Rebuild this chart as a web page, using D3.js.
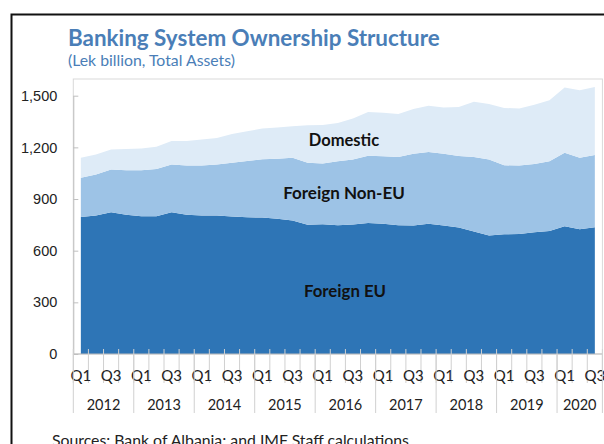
<!DOCTYPE html>
<html>
<head>
    <title>Banking System Ownership Structure</title>
    <script src="https://d3js.org/d3.v7.min.js"></script>
    <style>
        body { margin: 0; background: #fff; }
        svg { display: block; font-family: Lato, "Open Sans", sans-serif; }
        .tick text { font-size: 14.5px; fill: #222; }
        .layer-label { font-weight: bold; fill: #111; text-anchor: middle; }
    </style>
</head>
<body>
    <svg width="604" height="444"></svg>
    <script>
        // quarterly data, 2012 Q1 - 2020 Q3 (Lek billion)
        const years = [2012, 2013, 2014, 2015, 2016, 2017, 2018, 2019, 2020];
        const quarters = ["Q1", "Q2", "Q3", "Q4"];
        const foreignEU = [796, 804, 823, 808, 800, 800, 823, 808, 805, 804, 798, 794, 792, 786, 775, 750, 753, 747,
                           752, 761, 757, 747, 746, 756, 746, 734, 711, 688, 695, 697, 707, 715, 742, 724, 736];
        const foreignNonEU = [228, 239, 249, 259, 267, 275, 278, 286, 289, 297, 313, 327, 339, 348, 364, 361, 354, 372,
                              377, 391, 391, 397, 417, 417, 417, 416, 433, 441, 401, 397, 397, 404, 427, 416, 420];
        const domestic = [116, 115, 116, 124, 126, 129, 136, 143, 151, 154, 167, 172, 178, 182, 183, 217, 223, 223,
                          238, 253, 253, 250, 260, 269, 269, 284, 321, 323, 333, 331, 344, 354, 378, 391, 395];
        const seriesNames = ["Foreign EU", "Foreign Non-EU", "Domestic"];
        const colors = ["#2e75b6", "#9dc3e6", "#deebf7"];
        const yTicks = [0, 300, 600, 900, 1200, 1500];

        const periods = [];
        years.forEach(y => quarters.forEach(q => periods.push(y + " " + q)));
        periods.length = foreignEU.length;

        const rows = periods.map((p, i) => ({
            period: p,
            "Foreign EU": foreignEU[i],
            "Foreign Non-EU": foreignNonEU[i],
            "Domestic": domestic[i]
        }));

        const svg = d3.select("svg");
        const plotL = 73.3, plotR = 602.4, plotT = 79, plotB = 354;

        const x = d3.scaleBand().domain(periods).range([plotL, plotR]);
        const y = d3.scaleLinear().domain([0, 1500]).range([plotB, 95.7]);
        const cx = p => x(p) + x.bandwidth() / 2;

        // outer frame
        svg.append("rect")
            .attr("x", 11.5).attr("y", 14.5).attr("width", 640).attr("height", 480)
            .attr("fill", "none").attr("stroke", "#111").attr("stroke-width", 2);

        svg.append("text")
            .attr("x", 68).attr("y", 46)
            .attr("fill", "#4a7eb7").attr("font-size", 22.4).attr("font-weight", "bold")
            .text("Banking System Ownership Structure");
        svg.append("text")
            .attr("x", 68).attr("y", 66)
            .attr("fill", "#4a7eb7").attr("font-size", 15.8)
            .text("(Lek billion, Total Assets)");

        // plot area border
        svg.append("rect")
            .attr("x", plotL).attr("y", plotT).attr("width", plotR - plotL).attr("height", plotB - plotT)
            .attr("fill", "none").attr("stroke", "#d9d9d9");

        const stacked = d3.stack().keys(seriesNames)(rows);
        const area = d3.area()
            .x(d => cx(d.data.period))
            .y0(d => y(d[0]))
            .y1(d => y(d[1]));

        svg.append("g").selectAll("path")
            .data(stacked)
            .join("path")
            .attr("fill", (d, i) => colors[i])
            .attr("d", area);

        // y axis
        const yAxis = svg.append("g")
            .attr("transform", `translate(${plotL},0)`)
            .call(d3.axisLeft(y).tickValues(yTicks).tickSize(-5).tickSizeOuter(0).tickPadding(16)
                .tickFormat(d3.format(",")));
        yAxis.select(".domain").attr("stroke", "#bfbfbf");
        yAxis.selectAll(".tick line").attr("stroke", "#bfbfbf");

        // x axis: quarter ticks at band edges, Q1/Q3 labels, year groups
        const xg = svg.append("g");
        xg.append("line")
            .attr("x1", plotL).attr("x2", plotR).attr("y1", plotB).attr("y2", plotB)
            .attr("stroke", "#bfbfbf");
        const edges = periods.map(p => x(p)).concat([plotR]);
        xg.selectAll("line.qtick")
            .data(edges)
            .join("line")
            .attr("class", "qtick")
            .attr("x1", d => d).attr("x2", d => d)
            .attr("y1", plotB - 5).attr("y2", 383)
            .attr("stroke", "#d0d0d0");
        xg.selectAll("text.q")
            .data(periods.filter((p, i) => i % 2 === 0))
            .join("text")
            .attr("class", "q")
            .attr("x", cx).attr("y", 381)
            .attr("text-anchor", "middle").attr("font-size", 15).attr("fill", "#222")
            .text(p => p.split(" ")[1]);

        const yearEdges = years.map(yr => x(yr + " Q1")).concat([plotR]);
        xg.selectAll("line.ysep")
            .data(yearEdges)
            .join("line")
            .attr("class", "ysep")
            .attr("x1", d => d).attr("x2", d => d)
            .attr("y1", plotB).attr("y2", 413)
            .attr("stroke", "#d0d0d0");
        xg.selectAll("text.yr")
            .data(years)
            .join("text")
            .attr("class", "yr")
            .attr("x", (d, i) => (yearEdges[i] + yearEdges[i + 1]) / 2).attr("y", 410)
            .attr("text-anchor", "middle").attr("font-size", 14.5).attr("fill", "#222")
            .text(d => d);

        // series labels
        const labelPos = [[345, 297, 16.8], [344, 199, 17], [344, 146, 16.5]];
        svg.selectAll("text.layer-label")
            .data(seriesNames)
            .join("text")
            .attr("class", "layer-label")
            .attr("x", (d, i) => labelPos[i][0]).attr("y", (d, i) => labelPos[i][1])
            .attr("font-size", (d, i) => labelPos[i][2])
            .text(d => d);

        svg.append("text")
            .attr("x", 52).attr("y", 446)
            .attr("font-size", 15.8).attr("fill", "#222")
            .text("Sources: Bank of Albania; and IMF Staff calculations");
    </script>
</body>
</html>
